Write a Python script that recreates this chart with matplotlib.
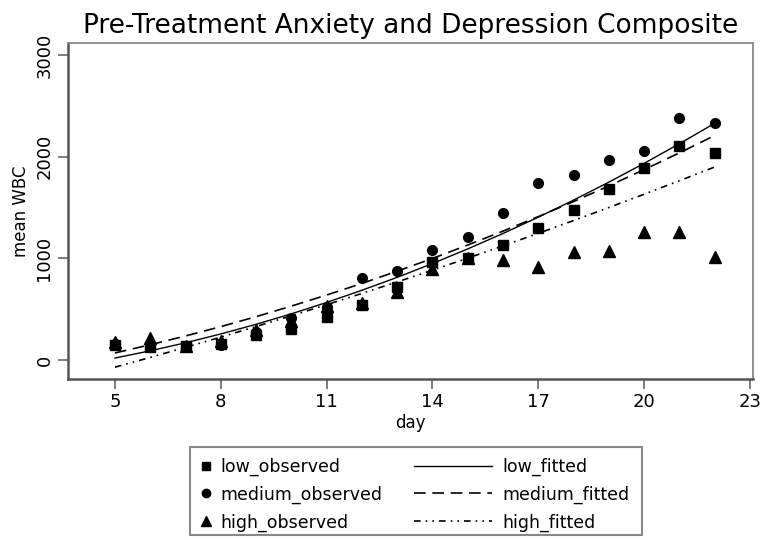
import matplotlib.pyplot as plt
from matplotlib.lines import Line2D
from matplotlib.patches import Rectangle

days = list(range(5, 23))

# observed means
low_observed = [150, 130, 140, 160, 245, 305, 425, 540, 720, 965,
                1000, 1130, 1300, 1475, 1680, 1890, 2110, 2035]
medium_observed = [160, 160, 140, 150, 280, 410, 520, 805, 875, 1080,
                   1215, 1445, 1740, 1820, 1965, 2055, 2380, 2330]
high_observed = [175, 215, 140, 190, 300, 380, 530, 560, 670, 895,
                 1000, 980, 915, 1060, 1070, 1260, 1260, 1015]

# fitted curves, read at each day
low_fitted = [20, 91, 170, 257, 352, 455, 567, 687, 814, 950,
              1094, 1246, 1406, 1574, 1751, 1936, 2129, 2330]
medium_fitted = [70, 151, 237, 329, 427, 531, 640, 754, 875, 1000,
                 1132, 1269, 1412, 1560, 1714, 1874, 2039, 2210]
high_fitted = [-70, 26, 125, 226, 330, 436, 545, 656, 769, 885,
               1003, 1124, 1247, 1373, 1501, 1632, 1765, 1900]

x_ticks = [5, 8, 11, 14, 17, 20, 23]
y_ticks = [0, 1000, 2000, 3000]

plt.rcParams['font.family'] = 'DejaVu Sans'
fig = plt.figure(figsize=(7.66, 5.4), dpi=100)
ax = fig.add_axes([0.0888, 0.298, 0.894, 0.622])

ax.plot(days, low_observed, 's', color='black', markersize=7, linestyle='none')
ax.plot(days, medium_observed, 'o', color='black', markersize=7, linestyle='none')
ax.plot(days, high_observed, '^', color='black', markersize=8, linestyle='none')
ax.plot(days, low_fitted, color='black', lw=1)
ax.plot(days, medium_fitted, color='black', lw=1.2, dashes=(7, 4))
ax.plot(days, high_fitted, color='black', lw=1.2, dashes=(4, 3, 1, 3, 1, 3))

ax.set_xlim(3.67, 23.08)
ax.set_ylim(-187, 3118)
ax.set_xticks(x_ticks)
ax.set_yticks(y_ticks)
ax.set_yticklabels([str(v) for v in y_ticks], rotation=90, va='center')
ax.tick_params(length=7, width=1.2, color='#666666', labelsize=13, direction='out')
ax.tick_params(axis='x', pad=3)
for s in ax.spines.values():
    s.set_color('#888888')
    s.set_linewidth(1.3)
for side in ['left', 'bottom']:
    ax.spines[side].set_color('#555555')
    ax.spines[side].set_linewidth(1.8)

ax.set_xlabel('day', fontsize=12, labelpad=2)
ax.set_ylabel('mean WBC', fontsize=12, labelpad=4)
ax.set_title('Pre-Treatment Anxiety and Depression Composite', fontsize=19, pad=7)

# legend: a framed box holding two columns
fig.patches.append(Rectangle((190 / 766, 1 - 535 / 540), 452 / 766, 88 / 540,
                             transform=fig.transFigure, fill=False,
                             edgecolor='#888888', lw=1.5))
obs_handles = [Line2D([], [], marker='s', color='black', ls='none', markersize=6),
               Line2D([], [], marker='o', color='black', ls='none', markersize=6),
               Line2D([], [], marker='^', color='black', ls='none', markersize=7)]
fit_handles = [Line2D([], [], color='black', lw=1),
               Line2D([], [], color='black', lw=1.2, dashes=(7, 4)),
               Line2D([], [], color='black', lw=1.2, dashes=(4, 3, 1, 3, 1, 3))]
fig.legend(obs_handles, ['low_observed', 'medium_observed', 'high_observed'],
           loc='upper left', bbox_to_anchor=(190 / 766, 1 - 449 / 540),
           frameon=False, fontsize=12.5, handlelength=0.8, handletextpad=0.45,
           labelspacing=0.55, borderpad=0)
fig.legend(fit_handles, ['low_fitted', 'medium_fitted', 'high_fitted'],
           loc='upper left', bbox_to_anchor=(405 / 766, 1 - 449 / 540),
           frameon=False, fontsize=12.5, handlelength=4.5, handletextpad=0.6,
           labelspacing=0.55, borderpad=0)

fig.savefig('out.png', dpi=100)
